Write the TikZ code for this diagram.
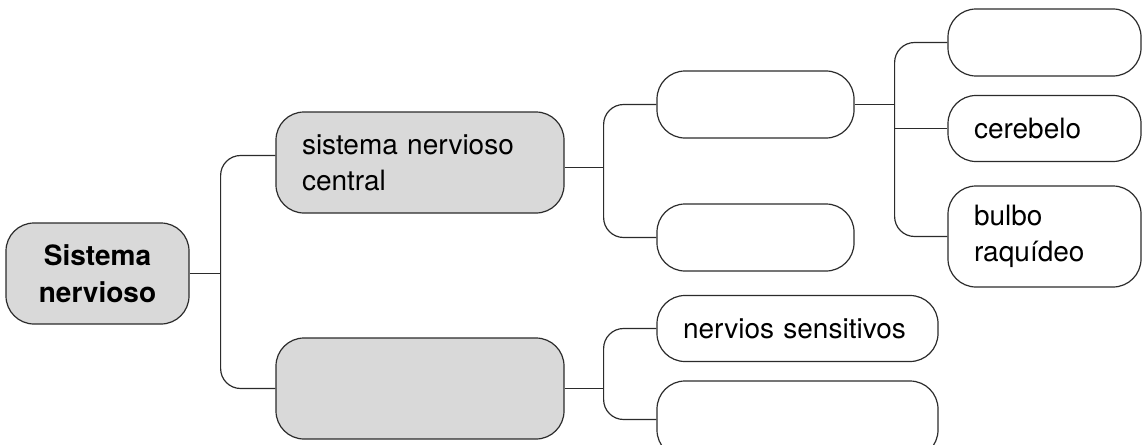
\documentclass[tikz,border=0pt]{standalone}
\usepackage{fontspec}
\setmainfont{TeX Gyre Heros}
\usetikzlibrary{positioning, calc}

\definecolor{boxgray}{HTML}{D9D9D9}
\definecolor{linegray}{HTML}{2B2B2B}

\tikzset{
	mapbox/.style={rectangle, draw=linegray, line width=1.2pt, rounded corners=28pt,
		inner xsep=26pt, inner ysep=0pt, align=left, font=\fontsize{28}{36}\selectfont},
	graybox/.style={mapbox, fill=boxgray},
	link/.style={draw=linegray, line width=1.2pt, rounded corners=20pt}
}

\begin{document}
\begin{tikzpicture}[x=1pt, y=-1pt]
		
		\useasboundingbox (0,0) rectangle (1142,444);
		
		%Concept nodes
		\node [graybox, text width=131pt, align=center, minimum height=101pt, 
		font=\fontsize{28}{37}\selectfont\bfseries] (sistema) at (97.5,273.5) {Sistema\\nervioso};
		
		\node [graybox, text width=236pt, minimum height=101pt] 
		(central) at (420,162.5) {sistema nervioso\\central};
		
		\node [graybox, text width=236pt, minimum height=101pt] 
		(periferico) at (420,388.5) {};
		
		\node [mapbox, text width=145pt, minimum height=67pt] 
		(encefalo) at (755.5,104.5) {};
		
		\node [mapbox, text width=145pt, minimum height=67pt] 
		(medula) at (755.5,237.5) {};
		
		\node [mapbox, text width=141pt, minimum height=67pt] 
		(cerebro) at (1044.5,42.5) {};
		
		\node [mapbox, text width=141pt, minimum height=66pt] 
		(cerebelo) at (1044.5,128.5) {cerebelo};
		
		\node [mapbox, text width=141pt, minimum height=101pt] 
		(bulbo) at (1044.5,236.5) {bulbo\\raquídeo};
		
		\node [mapbox, text width=229pt, minimum height=66pt] 
		(sensitivos) at (797.5,328.5) {nervios sensitivos};
		
		\node [mapbox, text width=229pt, minimum height=77pt] 
		(motores) at (797.5,419.5) {};
		
		
		%Branch points
		\coordinate (j1) at ([xshift=31pt]sistema.east);
		\coordinate (j2) at ([xshift=39pt, yshift=-5pt]central.east);
		\coordinate (j3) at ([xshift=39pt]periferico.east);
		\coordinate (j4) at ([xshift=40pt]encefalo.east);
		
		%Links
		\path [link] (sistema.east) -- (j1);
		\path [link] (j1) |- ([yshift=7pt]central.west);
		\path [link] (j1) |- (periferico.west);
		
		\path [link] ([yshift=-5pt]central.east) -- (j2);
		\path [link] (j2) |- (encefalo.west);
		\path [link] (j2) |- (medula.west);
		
		\path [link] (periferico.east) -- (j3);
		\path [link] (j3) |- (sensitivos.west);
		\path [link] (j3) |- (motores.west);
		
		\path [link] (encefalo.east) -- (j4);
		\path [link] (j4) |- (cerebro.west);
		\path [link] (j4) |- (bulbo.west);
		\path [link] (cerebelo.west -| j4) -- (cerebelo.west);
		
\end{tikzpicture}
\end{document}
